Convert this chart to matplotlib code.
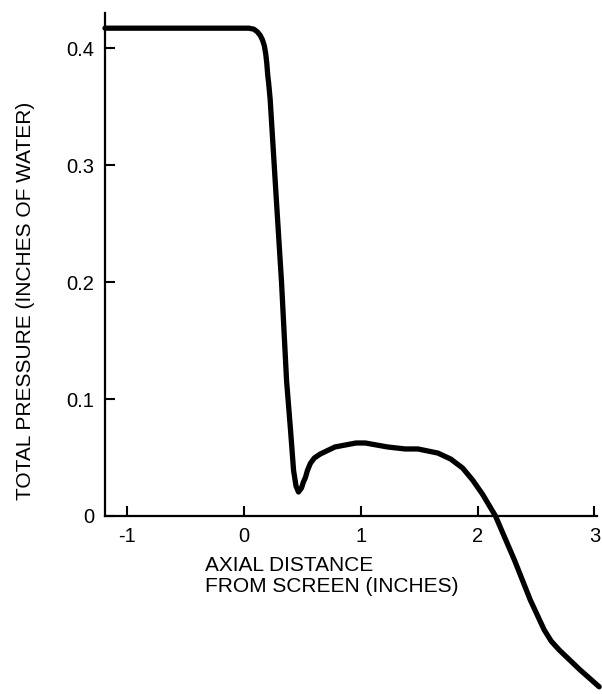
import matplotlib
matplotlib.use("Agg")
import matplotlib.pyplot as plt

plt.rcParams['font.family'] = ['Liberation Sans', 'DejaVu Sans']

# axial distance from screen (inches) and total pressure (inches of water)
distance = [-1.187, 0.043, 0.085, 0.115, 0.14, 0.16, 0.176, 0.188, 0.197,
            0.205, 0.213, 0.226, 0.279, 0.323, 0.366, 0.40, 0.426, 0.447, 0.468,
            0.494, 0.51, 0.528, 0.545, 0.57, 0.604, 0.655, 0.78, 0.96, 1.04,
            1.23, 1.38, 1.49, 1.66, 1.77, 1.872, 1.957, 2.043, 2.153, 2.315,
            2.451, 2.57, 2.63, 2.698, 2.877, 3.04]
pressure = [0.417, 0.417, 0.4162, 0.414, 0.411, 0.407, 0.402, 0.395, 0.387,
            0.377, 0.370, 0.356, 0.270, 0.200, 0.116, 0.0735, 0.039, 0.0256, 0.0205,
            0.024, 0.029, 0.033, 0.039, 0.045, 0.0496, 0.053, 0.059, 0.0624, 0.0624,
            0.059, 0.0573, 0.0573, 0.0538, 0.0487, 0.041, 0.0308, 0.0185, 0.0, -0.0376,
            -0.0718, -0.0974, -0.107, -0.1145, -0.1316, -0.146]

x_ticks = [-1, 0, 1, 2, 3]
y_ticks = [0, 0.1, 0.2, 0.3, 0.4]
y_tick_labels = ['0', '0.1', '0.2', '0.3', '0.4']

fig = plt.figure(figsize=(6.02, 6.94), dpi=100)
ax = fig.add_axes([0.1744, 0.2565, 0.817, 0.7248])

# curve runs past the bottom axis, so no clipping
ax.plot(distance, pressure, color='black', lw=3.8, clip_on=False,
        solid_joinstyle='round', solid_capstyle='round')

ax.set_xlim(-1.187, 3.02)
ax.set_ylim(0, 0.43)
ax.set_xticks(x_ticks)
ax.set_xticklabels([str(t) for t in x_ticks])
ax.set_yticks(y_ticks)
ax.set_yticklabels(y_tick_labels)

for side in ['top', 'right']:
    ax.spines[side].set_visible(False)
for side in ['left', 'bottom']:
    ax.spines[side].set_linewidth(1.6)

ax.tick_params(direction='in', length=7, width=1.5, labelsize=14.5, pad=8)

ax.set_xlabel("AXIAL DISTANCE\nFROM SCREEN (INCHES)", fontsize=15,
              ha='left', va='top', multialignment='left', linespacing=1.1)
ax.xaxis.set_label_coords(0.203, -0.08)
ax.set_ylabel("TOTAL PRESSURE (INCHES OF WATER)", fontsize=15, va='center')
ax.yaxis.set_label_coords(-0.161, 0.427)

fig.savefig("out.png", dpi=100)
